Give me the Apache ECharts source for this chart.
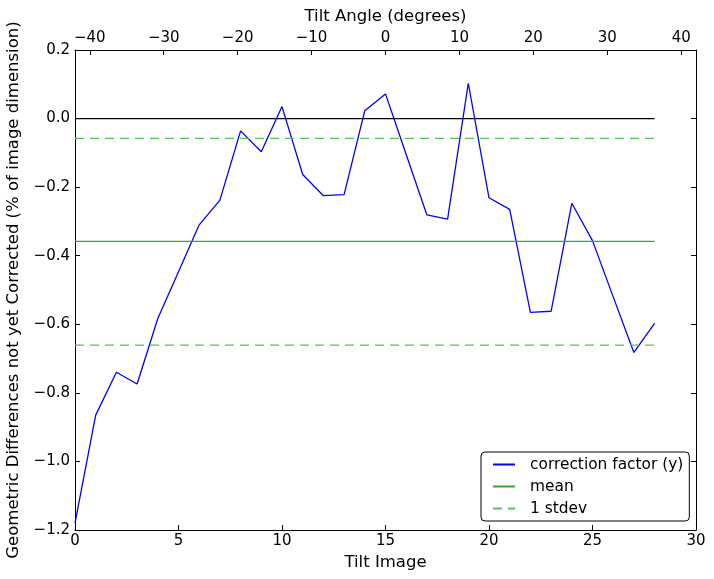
<!DOCTYPE html>
<html>
<head>
<meta charset="utf-8">
<script src="https://cdn.jsdelivr.net/npm/echarts@6/dist/echarts.min.js"></script>
<style>html,body{margin:0;padding:0;background:#fff;}#c{width:714px;height:579px;}</style>
</head>
<body>
<div id="c"></div>
<script>
const tiltImages = [0,1,2,3,4,5,6,7,8,9,10,11,12,13,14,15,16,17,18,19,20,21,22,23,24,25,26,27,28];
const correction = [-1.18,-0.865,-0.740,-0.774,-0.583,-0.447,-0.31,-0.238,-0.036,-0.097,0.035,-0.163,-0.225,-0.222,0.023,0.072,-0.105,-0.281,-0.293,0.103,-0.231,-0.265,-0.565,-0.562,-0.247,-0.356,-0.52,-0.682,-0.597];
const refSpan = [0, 28];
const zeroLevel = 0;
const meanLevel = -0.358;
const stdevUpper = -0.058;
const stdevLower = -0.661;
const bottomTicks = [0,5,10,15,20,25,30];
const topTicks = [-40,-30,-20,-10,0,10,20,30,40];
const yTicks = [-1.2,-1.0,-0.8,-0.6,-0.4,-0.2,0.0,0.2];

const FONT = 'DejaVu Sans';
const minus = s => s.replace('-', '\u2212');
const hline = v => refSpan.map(x => [x, v]);

const chart = echarts.init(document.getElementById('c'), null, {renderer: 'canvas'});
const axisBase = {
  axisLine: {show: true, onZero: false, lineStyle: {color: '#000', width: 1}},
  axisTick: {show: true, inside: true, length: 5, lineStyle: {color: '#000', width: 1}},
  splitLine: {show: false},
  axisLabel: {color: '#000', fontFamily: FONT, fontSize: 15},
  nameTextStyle: {color: '#000', fontFamily: FONT, fontSize: 16.5}
};
chart.setOption({
  animation: false,
  backgroundColor: '#fff',
  grid: {left: 75, top: 50, width: 621, height: 480, containLabel: false, outerBoundsMode: 'none'},
  xAxis: [
    Object.assign({}, axisBase, {
      type: 'value', position: 'bottom', min: 0, max: 30, interval: 5,
      name: 'Tilt Image', nameLocation: 'middle', nameGap: 20,
      axisLabel: Object.assign({}, axisBase.axisLabel, {margin: 4, customValues: bottomTicks, formatter: v => minus(String(v))}),
      axisTick: Object.assign({}, axisBase.axisTick, {customValues: bottomTicks})
    }),
    Object.assign({}, axisBase, {
      type: 'value', position: 'top', min: -42, max: 42,
      name: 'Tilt Angle (degrees)', nameLocation: 'middle', nameGap: 25,
      axisLabel: Object.assign({}, axisBase.axisLabel, {margin: 4, customValues: topTicks, formatter: v => minus(String(v))}),
      axisTick: Object.assign({}, axisBase.axisTick, {customValues: topTicks})
    })
  ],
  yAxis: [
    Object.assign({}, axisBase, {
      type: 'value', position: 'left', min: -1.2, max: 0.2, interval: 0.2,
      name: 'Geometric Differences not yet Corrected (% of image dimension)',
      nameLocation: 'middle', nameGap: 48,
      axisLabel: Object.assign({}, axisBase.axisLabel, {margin: 5, customValues: yTicks, formatter: v => minus(v.toFixed(1))}),
      axisTick: Object.assign({}, axisBase.axisTick, {customValues: yTicks})
    }),
    Object.assign({}, axisBase, {
      type: 'value', position: 'right', min: -1.2, max: 0.2, interval: 0.2,
      axisLabel: {show: false},
      axisTick: Object.assign({}, axisBase.axisTick, {customValues: yTicks})
    })
  ],
  legend: {
    left: 481, top: 452, orient: 'vertical',
    itemWidth: 22, itemHeight: 15, itemGap: 7,
    padding: [5, 6, 5, 11],
    borderColor: '#000', borderWidth: 1, borderRadius: 4,
    backgroundColor: '#fff',
    itemStyle: {opacity: 0},
    textStyle: {color: '#000', fontFamily: FONT, fontSize: 15.4, padding: [0, 0, 0, 10]},
    data: ['correction factor (y)', 'mean', '1 stdev']
  },
  series: [
    {name: 'zero', type: 'line', data: hline(zeroLevel), symbol: 'none', silent: true,
     lineStyle: {color: '#000', width: 1.3}, itemStyle: {color: '#000'}},
    {name: 'correction factor (y)', type: 'line', data: tiltImages.map((x, i) => [x, correction[i]]),
     symbol: 'none', lineStyle: {color: '#0000ff', width: 1.3}, itemStyle: {color: '#0000ff'}, z: 3},
    {name: 'mean', type: 'line', data: hline(meanLevel), symbol: 'none',
     lineStyle: {color: '#3ca03c', width: 1.3}, itemStyle: {color: '#3ca03c'}},
    {name: '1 stdev', type: 'line', data: hline(stdevUpper), symbol: 'none',
     lineStyle: {color: '#5cbf5c', width: 1.3, type: [9, 6]}, itemStyle: {color: '#5cbf5c'}},
    {name: '1 stdev', type: 'line', data: hline(stdevLower), symbol: 'none',
     lineStyle: {color: '#5cbf5c', width: 1.3, type: [9, 6]}, itemStyle: {color: '#5cbf5c'}}
  ]
});
</script>
</body>
</html>
